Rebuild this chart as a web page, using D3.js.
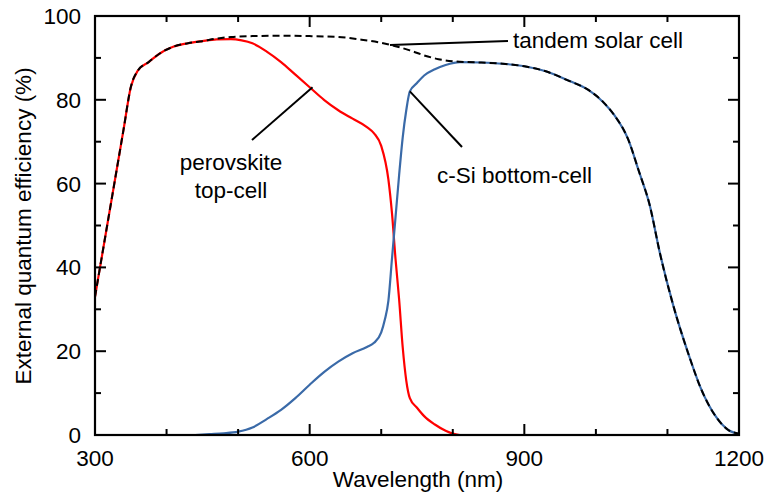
<!DOCTYPE html>
<html><head><meta charset="utf-8">
<script src="https://cdn.jsdelivr.net/npm/d3@7"></script>
<style>body{margin:0;background:#fff;} svg{display:block;} text{font-family:"Liberation Sans",Arial,sans-serif;fill:#000;}</style>
</head><body><svg id="c" width="766" height="504"></svg>
<script>
const redWl  = [300,310,320,330,340,350,360,375,390,410,430,450,470,490,505,520,540,560,580,600,620,640,660,680,690,700,710,715,720,725,730,735,740,750,760,775,790,810,1200];
const redEqe = [33,43,53,63,73,83,87,89,91,92.7,93.5,94,94.4,94.5,94.2,93.5,91.5,89,86,83,80,77.5,75.5,73.5,72,69,61,53,42,32.4,21,13,8.8,6.5,4.5,2.5,1,0,0];
const blueWl  = [440,460,480,500,520,540,560,580,600,620,640,660,680,690,700,705,710,715,720,725,730,735,740,750,760,775,790,810,840,870,900,930,960,990,1010,1025,1045,1060,1075,1090,1108,1130,1147,1168,1185,1200];
const blueEqe = [0,0.2,0.4,0.8,1.8,3.8,6,8.8,12,15,17.5,19.5,21,22,24.5,27.5,32,42,52,62,71,77.5,82,84,85.8,87.3,88.3,89,88.9,88.6,88,86.8,84.7,82.3,79.5,76.5,70.6,63,55,43,31,19,11,4.3,1.2,0.3];
const tandemWl  = [300,310,320,330,340,350,360,375,390,410,430,450,470,490,520,560,600,640,670,700,720,740,760,780,800,820,840,870,900,930,960,990,1010,1025,1045,1060,1075,1090,1108,1130,1147,1168,1185,1200];
const tandemEqe = [33,43,53,63,73,83,87,89,91,92.7,93.5,94,94.6,95,95.2,95.3,95.2,95,94.4,93.6,92.8,91.8,90.6,89.7,89.2,89,88.9,88.6,88,86.8,84.7,82.3,79.5,76.5,70.6,63,55,43,31,19,11,4.3,1.2,0.3];
const xMinorTicks = [300,400,500,600,700,800,900,1000,1100,1200];
const xMajorTicks = [300,600,900,1200];
const yMinorTicks = [0,10,20,30,40,50,60,70,80,90,100];
const yMajorTicks = [0,20,40,60,80,100];

const L=95, R=739, T=16, B=435;
const x = d3.scaleLinear().domain([300,1200]).range([L,R]);
const y = d3.scaleLinear().domain([0,100]).range([B,T]);
const svg = d3.select("#c");
const FS = "22.5px";

const line = d3.line().x(d=>x(d[0])).y(d=>y(d[1])).curve(d3.curveMonotoneX);
const zip = (a,b)=>a.map((v,i)=>[v,b[i]]);

svg.append("path").attr("d", line(zip(redWl,redEqe))).attr("fill","none").attr("stroke","#ff0000").attr("stroke-width",2.2);
svg.append("path").attr("d", line(zip(blueWl,blueEqe))).attr("fill","none").attr("stroke","#3a6aa8").attr("stroke-width",2.2);
svg.append("path").attr("d", line(zip(tandemWl,tandemEqe))).attr("fill","none").attr("stroke","#000").attr("stroke-width",2).attr("stroke-dasharray","7,4");

// frame
svg.append("rect").attr("x",L).attr("y",T).attr("width",R-L).attr("height",B-T).attr("fill","none").attr("stroke","#000").attr("stroke-width",2.2);

const g = svg.append("g").attr("stroke","#000").attr("stroke-width",2);
xMinorTicks.forEach(v=>{
  const len = xMajorTicks.includes(v)?11:6;
  g.append("line").attr("x1",x(v)).attr("x2",x(v)).attr("y1",B).attr("y2",B-len);
  g.append("line").attr("x1",x(v)).attr("x2",x(v)).attr("y1",T).attr("y2",T+len);
});
yMinorTicks.forEach(v=>{
  const len = yMajorTicks.includes(v)?11:6;
  g.append("line").attr("y1",y(v)).attr("y2",y(v)).attr("x1",L).attr("x2",L+len);
  g.append("line").attr("y1",y(v)).attr("y2",y(v)).attr("x1",R).attr("x2",R-len);
});
xMajorTicks.forEach(v=>{
  svg.append("text").attr("x",x(v)).attr("y",466).attr("text-anchor","middle").style("font-size",FS).text(v);
});
yMajorTicks.forEach(v=>{
  svg.append("text").attr("x",81).attr("y",y(v)+8).attr("text-anchor","end").style("font-size",FS).text(v);
});
svg.append("text").attr("x",418).attr("y",487).attr("text-anchor","middle").style("font-size",FS).text("Wavelength (nm)");
svg.append("text").attr("transform","translate(31,226) rotate(-90)").attr("text-anchor","middle").style("font-size",FS).text("External quantum efficiency (%)");

// annotations
const ann = svg.append("g").attr("stroke","#000").attr("stroke-width",2);
ann.append("line").attr("x1",x(604)).attr("y1",y(83)).attr("x2",252).attr("y2",140);
ann.append("line").attr("x1",x(740)).attr("y1",y(82)).attr("x2",462).attr("y2",147);
ann.append("line").attr("x1",390).attr("y1",45).attr("x2",508).attr("y2",41);
svg.append("text").attr("x",231).attr("y",170).attr("text-anchor","middle").style("font-size",FS).text("perovskite");
svg.append("text").attr("x",231).attr("y",198).attr("text-anchor","middle").style("font-size",FS).text("top-cell");
svg.append("text").attr("x",437).attr("y",183).style("font-size",FS).text("c-Si bottom-cell");
svg.append("text").attr("x",513).attr("y",48).style("font-size",FS).text("tandem solar cell");
</script></body></html>
